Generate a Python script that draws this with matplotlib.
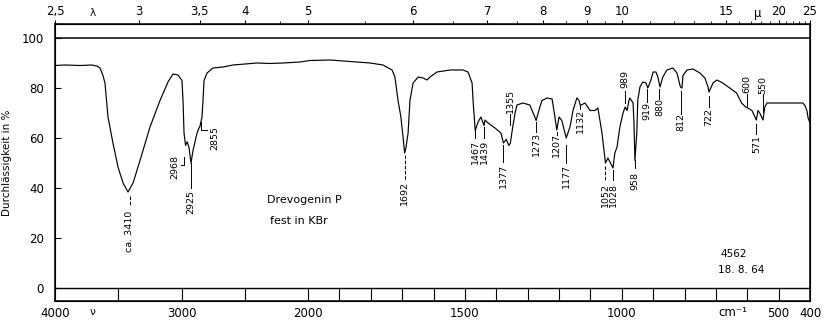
import numpy as np
import matplotlib
matplotlib.use("Agg")
import matplotlib.pyplot as plt
from matplotlib.ticker import NullLocator

# ==========================================================
# DATA
# ==========================================================

wavenumber = [
    4000, 3920, 3800, 3710, 3668, 3644, 3621, 3605, 3581, 3542,
    3502, 3462, 3423, 3383, 3328, 3249, 3170, 3107, 3067, 3028,
    2996, 2988, 2980, 2968, 2955, 2940, 2925, 2909, 2877, 2862,
    2855, 2838, 2830, 2822, 2798, 2751, 2672, 2593, 2500, 2403,
    2300, 2198, 2063, 1994, 1930, 1866, 1802, 1761, 1732, 1723,
    1713, 1704, 1697, 1692, 1688, 1681, 1675, 1665, 1649, 1633,
    1621, 1611, 1589, 1547, 1506, 1490, 1477, 1474, 1471, 1467,
    1458, 1449, 1439, 1436, 1426, 1404, 1385, 1377, 1368, 1360,
    1355, 1348, 1340, 1334, 1315, 1293, 1277, 1273, 1261, 1254,
    1238, 1222, 1213, 1207, 1200, 1191, 1177, 1165, 1155, 1143,
    1136, 1132, 1117, 1101, 1085, 1076, 1063, 1052, 1044, 1028,
    1022, 1015, 1006, 996, 989, 983, 977, 974, 964, 961,
    958, 952, 949, 942, 933, 923, 917, 907, 900, 891,
    885, 878, 869, 856, 837, 824, 813, 808, 805, 792,
    773, 751, 735, 725, 722, 709, 697, 678, 656, 634,
    618, 605, 598, 585, 571, 566, 560, 550, 544, 537,
    518, 474, 442, 423, 416, 410, 406, 400,
]

transmission = [
    89, 89.2, 89.0, 89.2, 88.8, 88, 85, 82, 68.4, 58,
    48.4, 42, 38.4, 42, 51, 64.4, 75, 82.4, 85.6, 85.2,
    83, 75, 62, 57, 58.5, 56, 50, 55, 62, 64,
    64.5, 68.4, 75, 83, 86, 88, 88.4, 89.2, 89.6, 90,
    89.8, 90, 90.4, 91, 91.2, 90.6, 90, 89.2, 87.2, 84.4,
    75, 68.4, 60.4, 54, 56, 62, 75, 82, 84.4, 84,
    83.2, 84.4, 86.4, 87.2, 87.2, 86.4, 82, 75, 70, 63,
    66.4, 68.4, 65, 67.2, 66, 64, 62, 58, 59.5, 57,
    58, 64, 70, 73.2, 74, 73.2, 68.4, 67, 72.4, 75,
    76, 75.6, 68.4, 63.2, 68.4, 67, 60, 64.4, 71.2, 76,
    75, 73, 74, 71, 71, 72, 62, 50, 52, 48,
    54, 56.4, 64.4, 70, 72.4, 71, 75, 76, 74, 66,
    51, 62, 75, 80.4, 82.4, 82, 80, 83.2, 86.4, 86.4,
    84.4, 80.4, 84.4, 87.2, 88, 86, 80.4, 80, 85, 87.2,
    87.6, 86, 84, 80.4, 78.4, 82, 83.2, 82, 80, 78,
    74, 72.4, 72, 71, 67.2, 71, 70, 67.2, 72.4, 74,
    74, 74, 74, 74, 73, 71, 68, 66,
]

peak_labels = [
    "ca. 3410", "2968", "2925", "2855", "1692", "1467", "1439", "1377",
    "1355", "1273", "1207", "1177", "1132", "1052", "1028", "958",
    "989", "919", "880", "812", "722", "600", "550", "571",
]

bottom_ticks = [4000, 3000, 2000, 1500, 1000, 500, 400]
bottom_labels = ["4000", "3000", "2000", "1500", "1000", "500", "400"]

micron_ticks = [2.5, 3, 3.5, 4, 5, 6, 7, 8, 9, 10, 15, 20, 25]
micron_labels = ["2,5", "3", "3,5", "4", "5", "6", "7", "8", "9", "10", "15", "20", "25"]
micron_minor = [4.5, 5.5, 6.5, 7.5, 8.5, 9.5, 11, 12, 13, 14, 16, 17, 18, 19,
                21, 22, 23, 24]

strip_ticks = [3500, 3000, 2500, 2000, 1900, 1800, 1700, 1600, 1500, 1400,
               1300, 1200, 1100, 1000, 900, 800, 700, 600, 500]


# ==========================================================
# PIECEWISE WAVENUMBER SCALE (grating change at 2000 cm-1)
# ==========================================================

HIGH_SCALE = 0.1265
LOW_SCALE = 0.31375


def nu_to_u(nu):
    nu = np.asarray(nu, dtype=float)
    p = np.where(nu >= 2000, (4000 - nu) * HIGH_SCALE,
                 2000 * HIGH_SCALE + (2000 - nu) * LOW_SCALE)
    return -p


def u_to_nu(u):
    p = -np.asarray(u, dtype=float)
    return np.where(p <= 2000 * HIGH_SCALE, 4000 - p / HIGH_SCALE,
                    2000 - (p - 2000 * HIGH_SCALE) / LOW_SCALE)


# ==========================================================
# FIGURE
# ==========================================================

plt.rcParams["font.family"] = "DejaVu Sans"

fig = plt.figure(figsize=(8.25, 3.21), dpi=100)
ax = fig.add_axes([55 / 825, 20 / 321, 755 / 825, 277 / 321])

ax.set_xscale("function", functions=(nu_to_u, u_to_nu))
ax.set_xlim(4000, 400)
ax.set_ylim(-5.2, 105.6)

ax.plot(wavenumber, transmission, color="black", lw=0.85)

# 100 % and 0 % lines, bottom strip
ax.axhline(100, color="black", lw=1.1)
ax.axhline(0, color="black", lw=1.0)
ax.vlines(strip_ticks, -5.2, 0, color="black", lw=0.8)

for side in ["left", "right", "top", "bottom"]:
    ax.spines[side].set_linewidth(1.1)

ax.set_yticks([0, 20, 40, 60, 80, 100])
ax.tick_params(axis="y", direction="in", length=4, pad=8, labelsize=8.5)

ax.set_xticks(bottom_ticks)
ax.set_xticklabels(bottom_labels)
ax.xaxis.set_minor_locator(NullLocator())
ax.tick_params(axis="x", length=0, pad=4, labelsize=8.5)

ax.set_ylabel("Durchlässigkeit in %", fontsize=7.5)
ax.yaxis.set_label_coords(-43 / 755, 0.5)

# top wavelength axis
ax2 = ax.twiny()
ax2.set_xscale("function", functions=(nu_to_u, u_to_nu))
ax2.set_xlim(4000, 400)
ax2.set_xticks([10000 / m for m in micron_ticks])
ax2.set_xticklabels(micron_labels)
ax2.set_xticks([10000 / m for m in micron_minor], minor=True)
ax2.tick_params(axis="x", which="major", direction="out", length=3, pad=1,
                labelsize=8.5)
ax2.tick_params(axis="x", which="minor", direction="out", length=2)

ax.text(3700, 110, "λ", ha="center", va="center", fontsize=7.5, clip_on=False)
ax.text(566, 110, "µ", ha="center", va="center", fontsize=8.5, clip_on=False)
ax.text(3700, -9.6, "ν", ha="center", va="center", fontsize=7.5, clip_on=False)
ax.text(645, -9.6, "cm⁻¹", ha="center", va="center", fontsize=8.5, clip_on=False)

# sample info
ax.text(2324, 35.2, "Drevogenin P", ha="left", va="center", fontsize=8)
ax.text(2300, 26.8, "fest in KBr", ha="left", va="center", fontsize=8)
ax.text(687, 13.6, "4562", ha="left", va="center", fontsize=7.5)
ax.text(694, 7.2, "18. 8. 64", ha="left", va="center", fontsize=7.5)

# ==========================================================
# PEAK ANNOTATIONS
# (text x, text centre y, leader from, leader to, leader style)
# ==========================================================

label_layout = [
    (3410, 22.8, 36.8, 33.2, "--"),
    (3051, 48.4, None, None, "-"),
    (2925, 34.4, 50.0, 40.0, "-"),
    (2735, 60.0, None, None, "-"),
    (1692, 38.0, 53.2, 43.2, "--"),
    (1467, 54.4, 63.2, 60.0, "-"),
    (1439, 54.4, 64.4, 60.0, "-"),
    (1377, 44.8, 57.2, 50.4, "-"),
    (1355, 74.8, 69.6, 65.2, "-"),
    (1273, 57.6, 66.4, 62.4, "-"),
    (1207, 57.2, 62.4, 61.2, "-"),
    (1177, 44.8, 57.2, 50.0, "-"),
    (1132, 66.8, 72.8, 71.6, "-"),
    (1052, 37.2, 48.8, 43.2, "--"),
    (1028, 37.2, 47.2, 43.2, "-"),
    (958, 42.8, 51.2, 48.0, "-"),
    (989, 83.6, 78.8, 74.0, "-"),
    (919, 70.8, 79.6, 74.4, "-"),
    (880, 72.4, 79.6, 75.6, "-"),
    (812, 66.4, 78.8, 69.6, "-"),
    (722, 68.4, 76.8, 72.4, "-"),
    (600, 81.6, 77.6, 72.8, "-"),
    (550, 81.2, 77.6, 70.4, "-"),
    (571, 57.6, 65.6, 61.6, "-"),
]

for text, (x, y, y0, y1, style) in zip(peak_labels, label_layout):
    ax.text(x, y, text, rotation=90, ha="center", va="center", fontsize=6.8)
    if y0 is not None:
        ax.plot([x, x], [y0, y1], color="black", lw=0.7, ls=style)

# small brackets for 2968 and 2855
ax.plot([3004, 2980, 2980], [49.2, 49.2, 52.5], color="black", lw=0.7)
ax.plot([2846, 2846, 2798], [66.4, 63.2, 63.2], color="black", lw=0.7)

fig.savefig("out.png", dpi=100)
